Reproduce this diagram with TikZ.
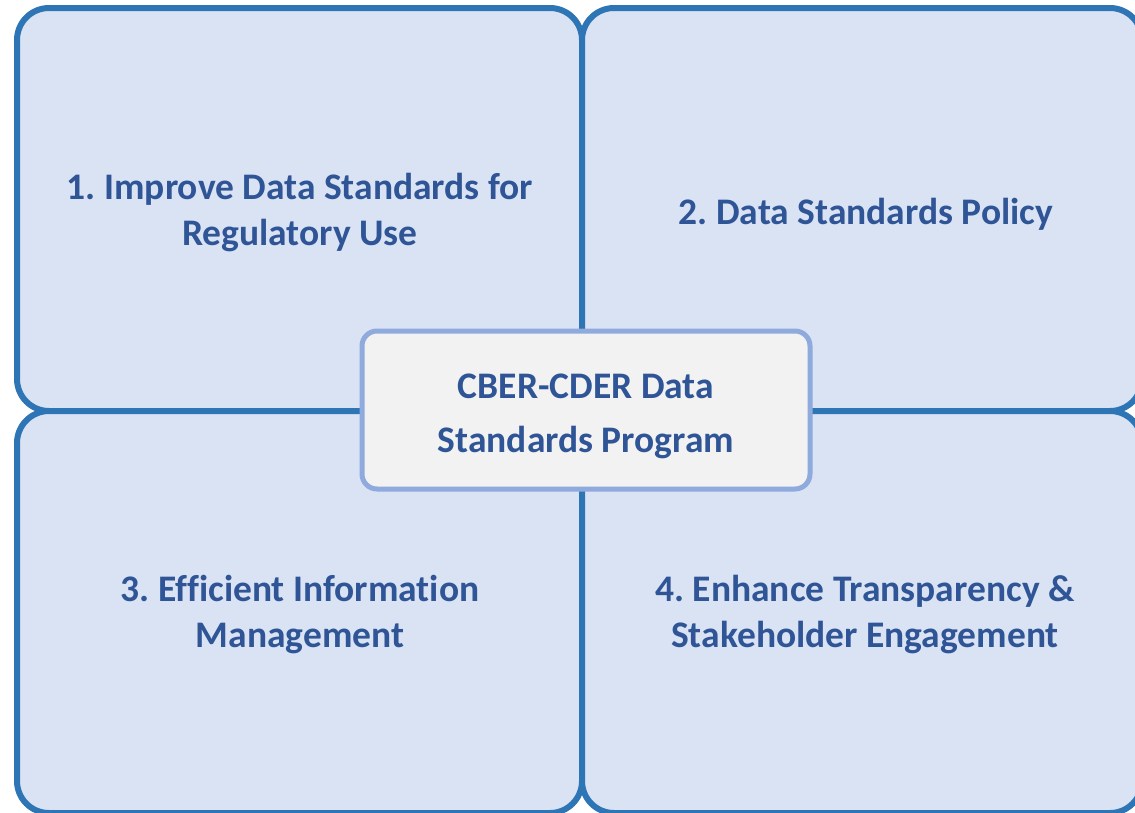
\documentclass[tikz,border=0pt]{standalone}
\usepackage{fontspec}
\setmainfont[Ligatures={NoCommon}]{Carlito}
\definecolor{qstroke}{HTML}{2E75B6}
\definecolor{qfill}{HTML}{DAE3F3}
\definecolor{cfill}{HTML}{F2F2F2}
\definecolor{cstroke}{HTML}{8FAADC}
\definecolor{txt}{HTML}{2F5597}
\tikzset{
  quad/.style={draw=qstroke, fill=qfill, line width=6pt, rounded corners=32pt},
  center box/.style={draw=cstroke, fill=cfill, line width=5pt, rounded corners=15pt},
  qtext/.style={text=txt, font=\frenchspacing\bfseries\fontsize{37.5}{46}\selectfont, align=center, inner sep=0pt},
  ctext/.style={text=txt, font=\frenchspacing\bfseries\fontsize{37.5}{54}\selectfont, align=center, inner sep=0pt}
}
\begin{document}
\begin{tikzpicture}[x=1pt, y=-1pt]
\useasboundingbox (0,0) rectangle (1135,812);
\begin{scope}
\clip (0,0) rectangle (1135,812);
\draw[quad] (17,8) rectangle (582,411);
\draw[quad] (582,8) rectangle (1142,411);
\draw[quad] (17,411) rectangle (582,813);
\draw[quad] (582,411) rectangle (1142,813);
\end{scope}
\node[qtext] (q1) at (300,213) {1. Improve Data Standards for\\Regulatory Use};
\node[qtext] (q2) at (866,214) {2. Data Standards Policy};
\node[qtext] (q3) at (300,615) {3. Efficient Information\\Management};
\node[qtext] (q4) at (865,615) {4. Enhance Transparency \&\\Stakeholder Engagement};
\draw[center box] (362,331) rectangle (810,489);
\node[ctext] (c) at (586,416) {CBER-CDER Data\\Standards Program};
\end{tikzpicture}
\end{document}
